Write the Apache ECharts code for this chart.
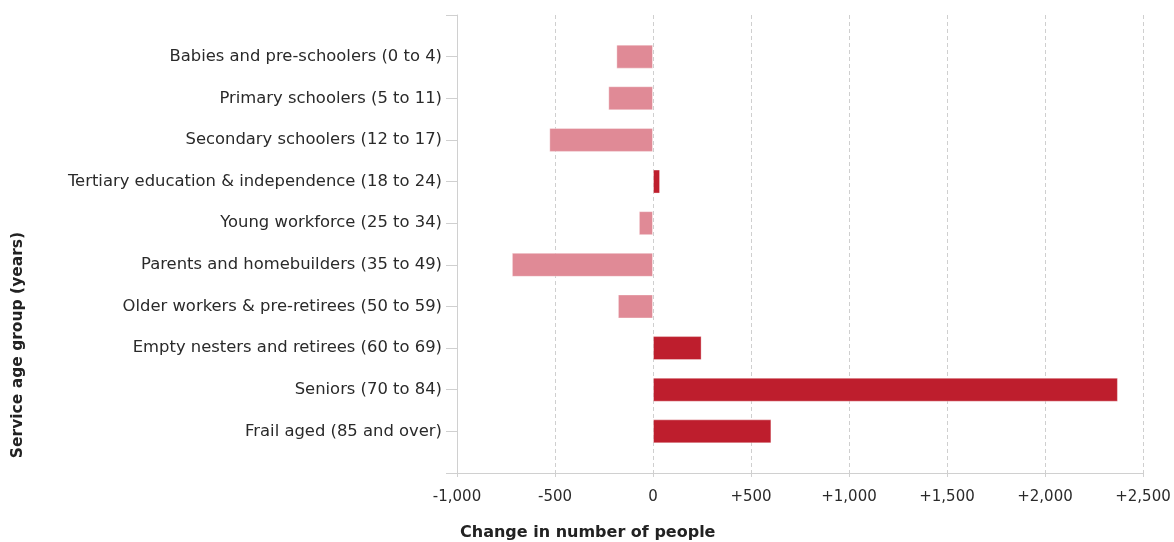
<!DOCTYPE html>
<html><head><meta charset="utf-8">
<script src="https://cdn.jsdelivr.net/npm/echarts@6/dist/echarts.min.js"></script>
<style>html,body{margin:0;padding:0;background:#fff}#c{width:1174px;height:542px}</style>
</head><body><div id="c"></div>
<script>
const categories = [
  'Babies and pre-schoolers (0 to 4)',
  'Primary schoolers (5 to 11)',
  'Secondary schoolers (12 to 17)',
  'Tertiary education & independence (18 to 24)',
  'Young workforce (25 to 34)',
  'Parents and homebuilders (35 to 49)',
  'Older workers & pre-retirees (50 to 59)',
  'Empty nesters and retirees (60 to 69)',
  'Seniors (70 to 84)',
  'Frail aged (85 and over)'
];
const changes = [-187, -228, -529, 36, -72, -720, -179, 248, 2372, 604];
const xTicks = [-1000, -500, 0, 500, 1000, 1500, 2000, 2500];
const xTitle = 'Change in number of people';
const yTitle = 'Service age group (years)';

const posColor = '#BE1E2D';
const negColor = '#E08A96';

// padded category axis so the axis extends half a band beyond the first/last bar
const axisCats = [''].concat(categories, ['']);
const barData = [null].concat(changes.map(v => ({
  value: v,
  itemStyle: { color: v >= 0 ? posColor : negColor }
})), [null]);

const fontFamily = '"DejaVu Sans", Verdana, sans-serif';
const chart = echarts.init(document.getElementById('c'), null, { renderer: 'canvas' });
chart.setOption({
  animation: false,
  grid: { left: 457, right: 31, top: 15, bottom: 69, containLabel: false },
  xAxis: {
    type: 'value',
    min: xTicks[0], max: xTicks[xTicks.length - 1], interval: 500,
    axisLine: { show: true, onZero: false, lineStyle: { color: '#d0d0d0', width: 1 } },
    axisTick: { show: true, length: 4, lineStyle: { color: '#d0d0d0' } },
    splitLine: { show: true, lineStyle: { color: '#cfcfcf', type: [4, 3], width: 1 } },
    axisLabel: {
      color: '#2a2a2a', fontSize: 15, fontFamily: fontFamily, margin: 17,
      formatter: v => (v > 0 ? '+' : '') + (v === 0 ? '0' : v.toLocaleString('en-US'))
    }
  },
  yAxis: {
    type: 'category',
    data: axisCats,
    inverse: true,
    boundaryGap: false,
    axisLine: { show: true, onZero: false, lineStyle: { color: '#d0d0d0', width: 1 } },
    axisTick: { show: true, length: 11, lineStyle: { color: '#d0d0d0' } },
    splitLine: { show: false },
    axisLabel: { color: '#2a2a2a', fontSize: 16.4, fontFamily: fontFamily, margin: 15, interval: 0 }
  },
  series: [{
    type: 'bar',
    data: barData,
    barWidth: 24,
    itemStyle: { borderColor: 'rgba(255,255,255,0.35)', borderWidth: 1 }
  }],
  graphic: [
    {
      type: 'text', left: 460, top: 525,
      style: { text: xTitle, font: 'bold 16px ' + fontFamily, fill: '#222' }
    },
    {
      type: 'text', x: 18, y: 345, rotation: Math.PI / 2,
      style: { text: yTitle, font: 'bold 15.5px ' + fontFamily, fill: '#222', align: 'center', verticalAlign: 'middle' }
    }
  ]
});
</script>
</body></html>
